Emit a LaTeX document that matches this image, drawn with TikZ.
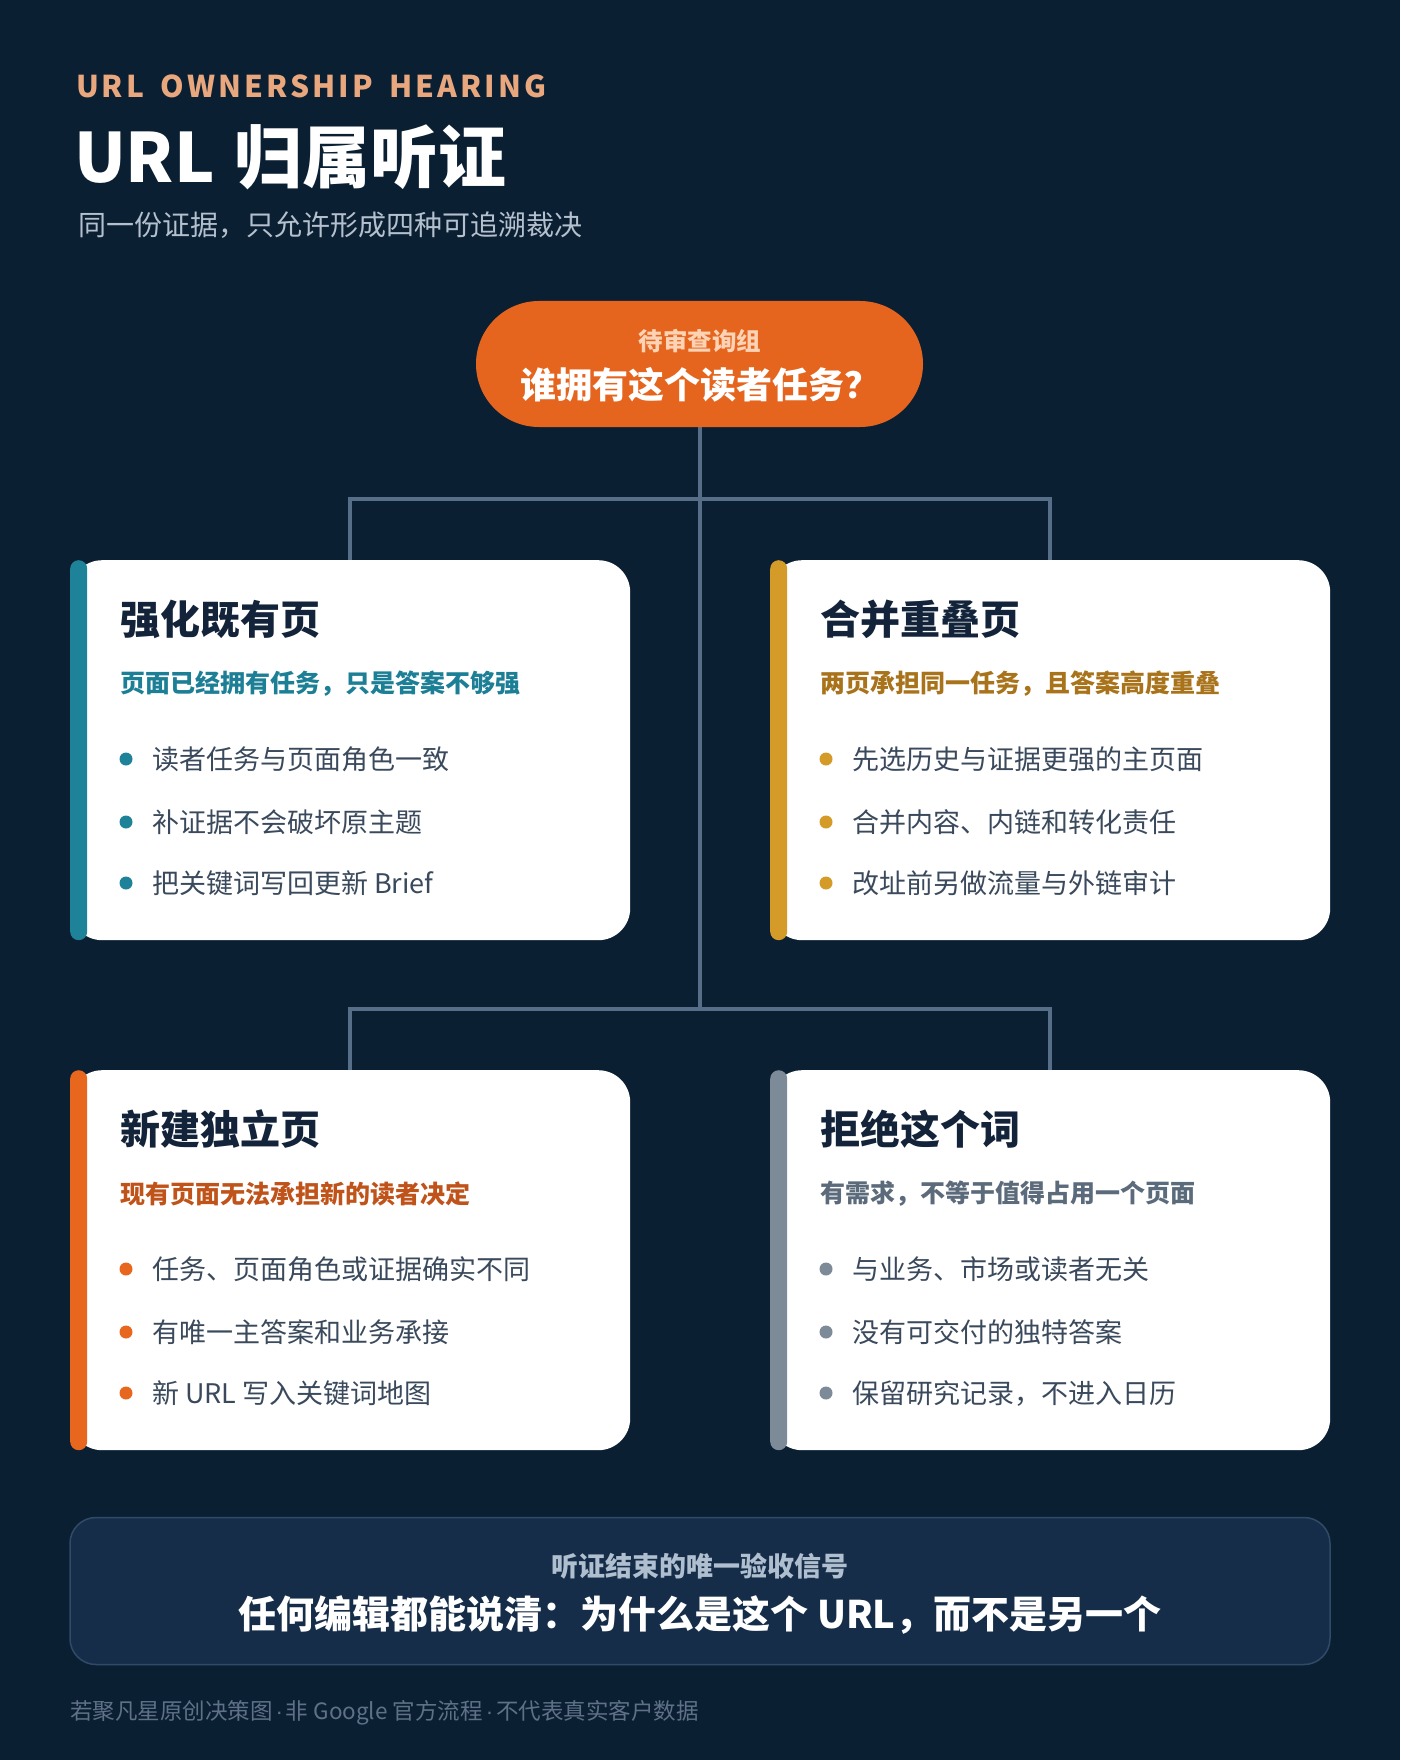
\documentclass[tikz,border=0pt]{standalone}
\usepackage{fontspec}
\setmainfont{Noto Sans CJK SC}
\newfontfamily\dotfont{Liberation Sans}
\definecolor{bg}{HTML}{0B1F33}
\definecolor{linec}{HTML}{566E88}
\definecolor{pillc}{HTML}{E5651F}
\definecolor{pillk}{HTML}{FCD3B5}
\definecolor{kicker}{HTML}{E9A77E}
\definecolor{subt}{HTML}{B4C0CE}
\definecolor{headc}{HTML}{13233A}
\definecolor{bodyc}{HTML}{3A4A5C}
\definecolor{acca}{HTML}{1E8399}
\definecolor{suba}{HTML}{1D7F96}
\definecolor{accb}{HTML}{D49B28}
\definecolor{subb}{HTML}{A8731B}
\definecolor{accc}{HTML}{E8671E}
\definecolor{subc}{HTML}{C0531A}
\definecolor{accd}{HTML}{7D8A98}
\definecolor{subd}{HTML}{5C6B7B}
\definecolor{boxfill}{HTML}{152D48}
\definecolor{boxline}{HTML}{2F4B68}
\definecolor{boxk}{HTML}{B0BFCF}
\definecolor{footc}{HTML}{5F7187}
\pgfdeclarelayer{back}
\pgfsetlayers{back,main}
\newcommand\fsz[1]{\fontsize{#1}{#1}\selectfont}
\newcommand\mdot{\hspace{3pt}{\dotfont ·}\hspace{3pt}}
\tikzset{
  txt/.style={inner sep=0pt, outer sep=0pt},
  card/.style={fill=white, rounded corners=32pt, minimum width=560pt, minimum height=380pt, inner sep=0pt, anchor=north west},
  accent/.style={rounded corners=8.5pt, minimum width=17pt, minimum height=380pt, inner sep=0pt, anchor=north west},
  cardhead/.style={txt, anchor=west, text=headc, font=\fsz{40}\bfseries},
  cardsub/.style={txt, anchor=west, font=\fsz{25}\bfseries},
  bul/.style={circle, inner sep=0pt, minimum size=13pt},
  bultext/.style={txt, anchor=west, text=bodyc, font=\fsz{27}},
  conn/.style={draw=linec, line width=4pt},
  pill/.style={fill=pillc, rounded corners=63pt, minimum width=447pt, minimum height=126pt, inner sep=0pt},
  sumbox/.style={fill=boxfill, draw=boxline, line width=1.5pt, rounded corners=26pt, minimum width=1260pt, minimum height=147pt, inner sep=0pt},
}
\newcommand\mycard[8]{%
  \node[card] (#1) at (#2,#3) {};
  \node[accent, fill=acc#1] (#1bar) at (#2,#3) {};
  \node[cardhead] (#1h) at ({#2+50},{#3+59.5}) {#4};
  \node[cardsub, text=sub#1] (#1s) at ({#2+50},{#3+124}) {#5};
  \node[bul, fill=acc#1] (#1d1) at ({#2+56},{#3+199}) {};
  \node[bultext] (#1t1) at ({#2+82},{#3+199}) {#6};
  \node[bul, fill=acc#1] (#1d2) at ({#2+56},{#3+262}) {};
  \node[bultext] (#1t2) at ({#2+82},{#3+262}) {#7};
  \node[bul, fill=acc#1] (#1d3) at ({#2+56},{#3+323}) {};
  \node[bultext] (#1t3) at ({#2+82},{#3+323}) {#8};
}
\begin{document}
\begin{tikzpicture}[x=1pt,y=-1pt]
\useasboundingbox (0,0) rectangle (1400,1760);
\begin{pgfonlayer}{back}
\fill[bg] (0,0) rectangle (1400,1760);
\end{pgfonlayer}

% header
\node[txt, anchor=west, text=kicker, font=\fsz{30}\bfseries\addfontfeatures{LetterSpace=10}] (kick) at (76,86) {URL\hspace{7pt} OWNERSHIP\hspace{7pt} HEARING};
\node[txt, anchor=west, text=white, font=\fsz{68}\bfseries] (title) at (74,157) {URL\hspace{4pt} 归属听证};
\node[txt, anchor=west, text=subt, font=\fsz{28}] (subtitle) at (78,225) {同一份证据，只允许形成四种可追溯裁决};

% question pill
\node[pill] (q) at (699.5,364) {};
\node[txt, text=pillk, font=\fsz{24.5}\bfseries] (qk) at (700,341) {待审查询组};
\node[txt, text=white, font=\fsz{36}\bfseries] (qt) at (700,385) {谁拥有这个读者任务？};

% cards
\mycard{a}{70}{560}{强化既有页}{页面已经拥有任务，只是答案不够强}{读者任务与页面角色一致}{补证据不会破坏原主题}{把关键词写回更新 Brief}
\mycard{b}{770}{560}{合并重叠页}{两页承担同一任务，且答案高度重叠}{先选历史与证据更强的主页面}{合并内容、内链和转化责任}{改址前另做流量与外链审计}
\mycard{c}{70}{1070}{新建独立页}{现有页面无法承担新的读者决定}{任务、页面角色或证据确实不同}{有唯一主答案和业务承接}{新 URL 写入关键词地图}
\mycard{d}{770}{1070}{拒绝这个词}{有需求，不等于值得占用一个页面}{与业务、市场或读者无关}{没有可交付的独特答案}{保留研究记录，不进入日历}

% connectors
\coordinate (j1) at (699.5,498.5);
\coordinate (j2) at (699.5,1009);
\begin{pgfonlayer}{back}
\draw[conn] (q.south) -- (j2);
\draw[conn] (a.north) |- (j1) -| (b.north);
\draw[conn] (c.north) |- (j2) -| (d.north);
\end{pgfonlayer}

% summary box
\node[sumbox] (s) at (700,1591) {};
\node[txt, text=boxk, font=\fsz{27}\bfseries] (sk) at (700,1566) {听证结束的唯一验收信号};
\node[txt, text=white, font=\fsz{38}\bfseries] (st) at (700,1615) {任何编辑都能说清：为什么是这个 URL，而不是另一个};

% footer
\node[txt, anchor=west, text=footc, font=\fsz{22.5}] (foot) at (70,1713) {若聚凡星原创决策图\mdot 非 Google 官方流程\mdot 不代表真实客户数据};
\end{tikzpicture}
\end{document}
